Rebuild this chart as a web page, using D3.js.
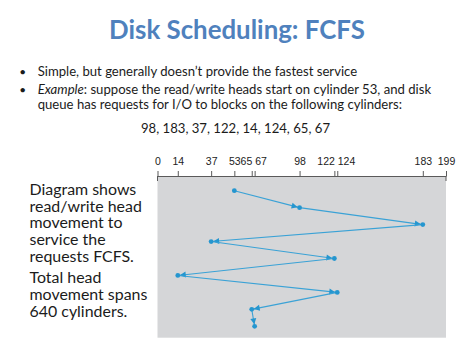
<!DOCTYPE html>
<html><head><meta charset="utf-8">
<script src="https://cdn.jsdelivr.net/npm/d3@7"></script>
<style>html,body{margin:0;padding:0;background:#fff;overflow:hidden}</style>
</head><body><svg id="c" width="474" height="355"></svg>
<script>
// ---- data ----
const titleText = "Disk Scheduling: FCFS";
const bullet1 = "Simple, but generally doesn\u2019t provide the fastest service";
const bullet2Italic = "Example";
const bullet2Rest = ": suppose the read/write heads start on cylinder 53, and disk";
const bullet2Cont = "queue has requests for I/O to blocks on the following cylinders:";
const queueLine = "98, 183, 37, 122, 14, 124, 65, 67";
const noteLinesA = ["Diagram shows", "read/write head", "movement to", "service the", "requests FCFS."];
const noteLinesB = ["Total head", "movement spans", "640 cylinders."];
const startCylinder = 53;
const requests = [98, 183, 37, 122, 14, 124, 65, 67];
const tickValues = [0, 14, 37, 53, 65, 67, 98, 122, 124, 183, 199];
const cylinderDomain = [0, 199];

// ---- drawing ----
const svg = d3.select("#c");
const bodyFont = "Lato, 'Open Sans', sans-serif";
const textColor = "#1b1b1b";

function fitSize(sel, target) {
  const w = sel.node().getComputedTextLength();
  const fs = parseFloat(sel.attr("font-size"));
  return fs * target / w;
}

// title
const t = svg.append("text").attr("x", 237).attr("y", 39).attr("text-anchor", "middle")
  .attr("font-family", bodyFont).attr("font-weight", "bold").attr("font-size", 24)
  .attr("fill", "#4f81bd").text(titleText);
t.attr("font-size", fitSize(t, 256));

// bullets
const b2 = svg.append("text").attr("x", 37.7).attr("y", 94).attr("font-family", bodyFont)
  .attr("font-size", 14).attr("fill", textColor);
b2.append("tspan").attr("font-style", "italic").text(bullet2Italic);
b2.append("tspan").text(bullet2Rest);
const bodySize = fitSize(b2, 394);
b2.attr("font-size", bodySize);
svg.append("text").attr("x", 37.7).attr("y", 75.5).attr("font-family", bodyFont)
  .attr("font-size", bodySize).attr("fill", textColor).text(bullet1);
svg.append("text").attr("x", 37.7).attr("y", 108.5).attr("font-family", bodyFont)
  .attr("font-size", bodySize).attr("fill", textColor).text(bullet2Cont);
[75.5, 94].forEach(y => svg.append("text").attr("x", 22.7).attr("y", y).attr("text-anchor", "middle")
  .attr("font-family", bodyFont).attr("font-size", bodySize * 0.9).attr("fill", textColor).text("\u2022"));
svg.append("text").attr("x", 235.5).attr("y", 133).attr("text-anchor", "middle")
  .attr("font-family", bodyFont).attr("font-size", bodySize).attr("fill", textColor).text(queueLine);

// side note
const probe = svg.append("text").attr("font-family", bodyFont).attr("font-size", 14).text(noteLinesB[1]);
const noteSize = fitSize(probe, 118);
probe.remove();
const note = svg.append("g").attr("font-family", bodyFont).attr("font-size", noteSize).attr("fill", textColor);
noteLinesA.forEach((s, i) => note.append("text").attr("x", 29.5).attr("y", 195 + i * 16.7).text(s));
noteLinesB.forEach((s, i) => note.append("text").attr("x", 29.5).attr("y", 283.3 + i * 16.7).text(s));

// chart
const x = d3.scaleLinear().domain(cylinderDomain).range([157.5, 446]);
const sequence = [startCylinder].concat(requests);
const y = d3.scalePoint().domain(d3.range(sequence.length)).range([190.7, 326.3]);
const axisY = 176;

svg.append("rect").attr("x", x(cylinderDomain[0])).attr("y", axisY)
  .attr("width", x(cylinderDomain[1]) - x(cylinderDomain[0])).attr("height", 337.7 - axisY)
  .attr("fill", "#d5d6d8");

const axis = d3.axisTop(x).tickValues(tickValues).tickSize(5).tickSizeOuter(0).tickPadding(6.5)
  .tickFormat(d3.format("d"));
const ag = svg.append("g").attr("transform", `translate(0,${axisY})`).call(axis);
ag.select(".domain").attr("stroke", "#5a5a5a");
ag.selectAll(".tick line").attr("stroke", "#5a5a5a");
ag.selectAll(".tick text").attr("font-family", "'Liberation Sans', Arial, sans-serif")
  .attr("font-size", 10.5).attr("fill", "#222")
  .attr("text-anchor", (d, i) => {
    const prev = tickValues[i - 1], next = tickValues[i + 1];
    if (next !== undefined && next - d <= 3) return "end";
    if (prev !== undefined && d - prev <= 3) return "start";
    return "middle";
  });
// end ticks extend below the axis
cylinderDomain.forEach(v => svg.append("line").attr("x1", x(v)).attr("x2", x(v))
  .attr("y1", axisY).attr("y2", axisY + 5).attr("stroke", "#5a5a5a"));

const lineColor = "#3aa2d6";
const dotColor = "#2596cf";
svg.append("defs").append("marker").attr("id", "arr").attr("markerUnits", "userSpaceOnUse")
  .attr("markerWidth", 12).attr("markerHeight", 12).attr("viewBox", "-2 -6 12 12")
  .attr("refX", 8).attr("refY", 0).attr("orient", "auto")
  .append("path").attr("d", "M0,-3L6,0L0,3Z").attr("fill", dotColor);

const segs = d3.pairs(sequence.map((v, i) => ({v, i})));
svg.append("g").selectAll("line").data(segs).join("line")
  .attr("x1", d => x(d[0].v)).attr("y1", d => y(d[0].i))
  .attr("x2", d => x(d[1].v)).attr("y2", d => y(d[1].i))
  .attr("stroke", lineColor).attr("stroke-width", 1.1).attr("marker-end", "url(#arr)");
svg.append("g").selectAll("circle").data(sequence).join("circle")
  .attr("cx", d => x(d)).attr("cy", (d, i) => y(i)).attr("r", 2.4).attr("fill", dotColor);
</script></body></html>
